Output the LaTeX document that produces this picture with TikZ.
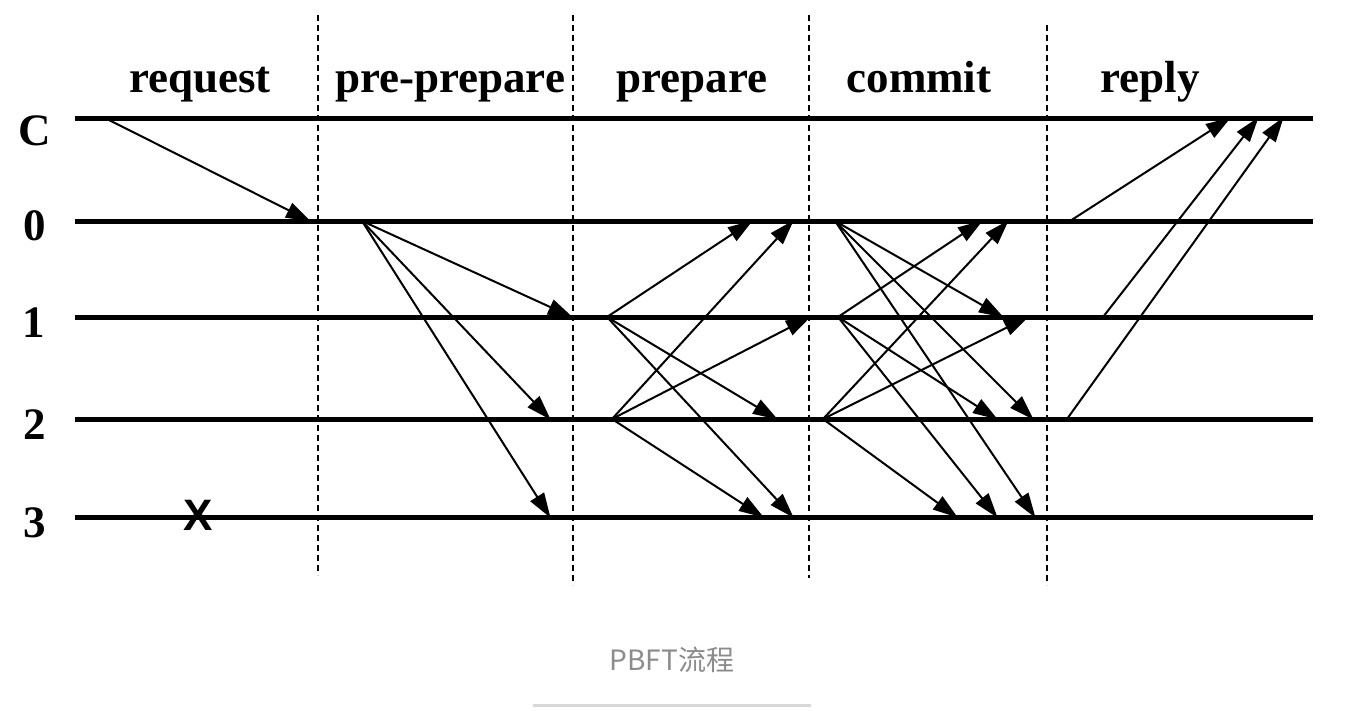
\documentclass[tikz,border=0pt]{standalone}
\usepackage{fontspec}
\setmainfont{Liberation Serif}
\newfontfamily\cjkfont{Noto Sans CJK SC}
\newfontfamily\xsans{Liberation Sans}
\usetikzlibrary{arrows.meta}
\definecolor{capgray}{RGB}{140,140,140}
\definecolor{rulegray}{RGB}{215,215,215}
\tikzset{
  timeline/.style={line width=5pt},
  phasesep/.style={line width=2.8pt, dash pattern=on 6pt off 4pt},
  msg/.style={line width=2pt, -{Triangle[length=25pt,width=16pt]}, shorten >=-1pt},
  phase/.style={font=\bfseries\fontsize{45}{50}\selectfont, anchor=base},
  replica/.style={font=\bfseries\fontsize{45}{50}\selectfont, anchor=center},
}
\begin{document}
\begin{tikzpicture}[x=1pt,y=-1pt]
\useasboundingbox (0,0) rectangle (1366,710);
\fill[white] (0,0) rectangle (1366,710);
% timelines
\foreach \n/\yy in {C/118,0/221,1/317,2/419,3/517}{
  \coordinate (L\n s) at (75,\yy);
  \coordinate (L\n e) at (1313,\yy);
  \draw[timeline] (L\n s) -- (L\n e);
}
% replica labels
\node[replica] (labC) at (35,131) {C};
\node[replica] (lab0) at (35,226) {0};
\node[replica] (lab1) at (34,323) {1};
\node[replica] (lab2) at (35,425) {2};
\node[replica] (lab3) at (35,523) {3};
% phase separators
\coordinate (s1t) at (318,15);  \coordinate (s1b) at (318,575);
\coordinate (s2t) at (573,15);  \coordinate (s2b) at (573,585);
\coordinate (s3t) at (809,15);  \coordinate (s3b) at (809,578);
\coordinate (s4t) at (1047,25); \coordinate (s4b) at (1047,585);
\draw[phasesep] (s1t) -- (s1b);
\draw[phasesep] (s2t) -- (s2b);
\draw[phasesep] (s3t) -- (s3b);
\draw[phasesep] (s4t) -- (s4b);
% phase titles
\node[phase] (hreq) at (200,92) {request};
\node[phase] (hpp) at (450,92) {pre-prepare};
\node[phase] (hpr) at (692,92) {prepare};
\node[phase] (hcm) at (919,92) {commit};
\node[phase] (hrp) at (1150,92) {reply};
% faulty replica
\node[font=\xsans\bfseries\fontsize{44}{48}\selectfont] (fail) at (198,515) {X};
% request
\coordinate (rqS) at (105,118); \coordinate (rqT) at (310,221);
\draw[msg] (rqS) -- (rqT);
% pre-prepare
\coordinate (ppS) at (362,221);
\coordinate (ppT1) at (572,317); \coordinate (ppT2) at (550,419); \coordinate (ppT3) at (550,517);
\draw[msg] (ppS) -- (ppT1);
\draw[msg] (ppS) -- (ppT2);
\draw[msg] (ppS) -- (ppT3);
% prepare
\coordinate (prS1) at (607,317); \coordinate (prS2) at (612,419);
\coordinate (prT10) at (752,221); \coordinate (prT12) at (777,419); \coordinate (prT13) at (793,517);
\coordinate (prT20) at (793,221); \coordinate (prT21) at (810,317); \coordinate (prT23) at (763,517);
\draw[msg] (prS1) -- (prT10);
\draw[msg] (prS1) -- (prT12);
\draw[msg] (prS1) -- (prT13);
\draw[msg] (prS2) -- (prT20);
\draw[msg] (prS2) -- (prT21);
\draw[msg] (prS2) -- (prT23);
% commit
\coordinate (cmS0) at (835,221); \coordinate (cmS1) at (838,317); \coordinate (cmS2) at (823,419);
\coordinate (cmT01) at (1003,317); \coordinate (cmT02) at (1033,419); \coordinate (cmT03) at (1035,517);
\coordinate (cmT10) at (982,221); \coordinate (cmT12) at (997,419); \coordinate (cmT13) at (997,517);
\coordinate (cmT20) at (1008,221); \coordinate (cmT21) at (1028,317); \coordinate (cmT23) at (957,517);
\draw[msg] (cmS0) -- (cmT01);
\draw[msg] (cmS0) -- (cmT02);
\draw[msg] (cmS0) -- (cmT03);
\draw[msg] (cmS1) -- (cmT10);
\draw[msg] (cmS1) -- (cmT12);
\draw[msg] (cmS1) -- (cmT13);
\draw[msg] (cmS2) -- (cmT20);
\draw[msg] (cmS2) -- (cmT21);
\draw[msg] (cmS2) -- (cmT23);
% reply
\coordinate (rpS0) at (1070,221); \coordinate (rpT0) at (1230,118);
\coordinate (rpS1) at (1103,317); \coordinate (rpT1) at (1258,118);
\coordinate (rpS2) at (1067,419); \coordinate (rpT2) at (1283,118);
\draw[msg] (rpS0) -- (rpT0);
\draw[msg] (rpS1) -- (rpT1);
\draw[msg] (rpS2) -- (rpT2);
% caption
\node[font=\cjkfont\fontsize{28}{32}\selectfont, text=capgray] (cap) at (672,660) {PBFT流程};
\coordinate (ruS) at (533,705); \coordinate (ruE) at (811,705);
\draw[rulegray, line width=3pt] (ruS) -- (ruE);
\end{tikzpicture}
\end{document}
